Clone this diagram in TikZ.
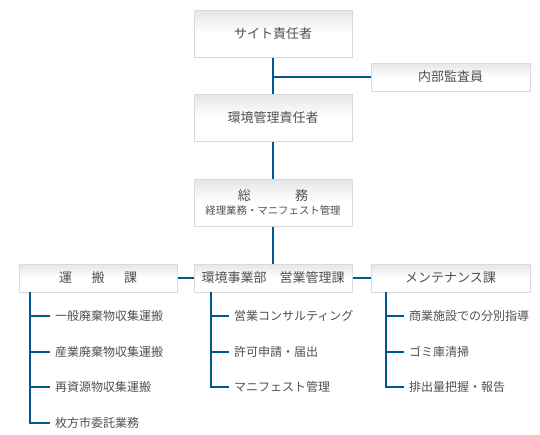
\documentclass[tikz,border=0pt]{standalone}
\usepackage{fontspec}
\setmainfont{Noto Sans CJK JP}
\usetikzlibrary{calc}
\definecolor{txt}{HTML}{505050}
\definecolor{bord}{HTML}{DADADA}
\definecolor{grad}{HTML}{E6E6E6}
\definecolor{lineblue}{HTML}{00588F}
\tikzset{
  box/.style={draw=bord, line width=1pt, top color=grad, bottom color=white, middle color=white,
    minimum width=158pt, inner sep=0pt, text=txt, align=center, font=\fontsize{13}{15}\selectfont},
  tall/.style={box, minimum height=47pt},
  short/.style={box, minimum height=28pt},
  item/.style={anchor=west, inner sep=5pt, text=txt, font=\fontsize{12}{14}\selectfont},
  conn/.style={draw=lineblue, line width=2.4pt},
  sub/.style={draw=lineblue, line width=1.3pt}
}
\begin{document}
\begin{tikzpicture}[x=1pt,y=-1pt]
\useasboundingbox (0,0) rectangle (540,434);
\node[tall] (site) at (273,33.5) {サイト責任者};
\node[short, minimum width=159pt] (audit) at (450.5,77) {内部監査員};
\node[tall] (env) at (273,117.5) {環境管理責任者};
\node[tall] (soumu) at (273,202.5) {総\hspace{3.4em}務\\[-1pt]{\fontsize{10.4}{12}\selectfont 経理業務・マニフェスト管理}};
\node[short] (unpan) at (98,278) {運\hspace{1.5em}搬\hspace{1.5em}課};
\node[short] (eigyo) at (273,278) {環境事業部\hspace{1em}営業管理課};
\node[short, minimum width=159pt] (maint) at (450.5,278) {メンテナンス課};

\coordinate (j1) at (site.south |- audit.west);
\draw[conn] (site.south) -- (env.north);
\draw[conn] (j1) -- (audit.west);
\draw[conn] (env.south) -- (soumu.north);
\draw[conn] (soumu.south) -- (eigyo.north);
\draw[conn] (unpan.east) -- (eigyo.west);
\draw[conn] (eigyo.east) -- (maint.west);

% left subtree
\coordinate (lv) at (30,292);
\node[item] (l1) at (50,316) {一般廃棄物収集運搬};
\node[item] (l2) at (50,352) {産業廃棄物収集運搬};
\node[item] (l3) at (50,387) {再資源物収集運搬};
\node[item] (l4) at (50,423) {枚方市委託業務};
\draw[sub] (lv) -- (lv |- l4.west) -- (l4.west);
\foreach \n in {l1,l2,l3} \draw[sub] (lv |- \n.west) -- (\n.west);

% center subtree
\coordinate (cv) at (211,292);
\node[item] (c1) at (229,316) {営業コンサルティング};
\node[item] (c2) at (229,352) {許可申請・届出};
\node[item] (c3) at (229,387) {マニフェスト管理};
\draw[sub] (cv) -- (cv |- c3.west) -- (c3.west);
\foreach \n in {c1,c2} \draw[sub] (cv |- \n.west) -- (\n.west);

% right subtree
\coordinate (rv) at (386,292);
\node[item] (r1) at (404,316) {商業施設での分別指導};
\node[item] (r2) at (404,352) {ゴミ庫清掃};
\node[item] (r3) at (404,387) {排出量把握・報告};
\draw[sub] (rv) -- (rv |- r3.west) -- (r3.west);
\foreach \n in {r1,r2} \draw[sub] (rv |- \n.west) -- (\n.west);
\end{tikzpicture}
\end{document}
